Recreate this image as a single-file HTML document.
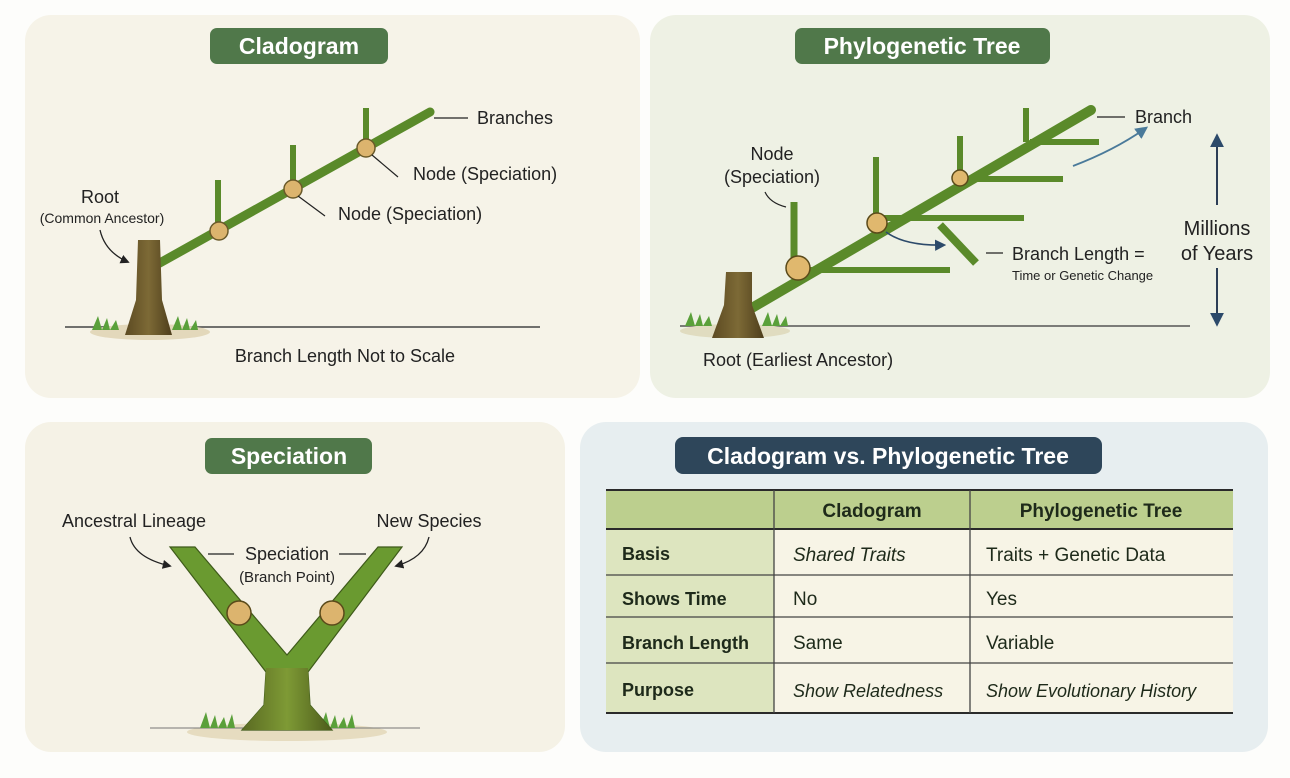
<!DOCTYPE html>
<html><head><meta charset="utf-8"><style>
html,body{margin:0;padding:0;background:#fff;}
svg{display:block;font-family:"Liberation Sans",sans-serif;}
</style></head><body>
<svg width="1290" height="778" viewBox="0 0 1290 778" xmlns="http://www.w3.org/2000/svg">
<defs>
<marker id="ah" viewBox="0 0 10 10" refX="8" refY="5" markerWidth="7" markerHeight="7" orient="auto"><path d="M0,0 L10,5 L0,10 z" fill="#222"/></marker>
<marker id="an" viewBox="0 0 10 10" refX="8" refY="5" markerWidth="7" markerHeight="7" orient="auto"><path d="M0,0 L10,5 L0,10 z" fill="#2c4a6a"/></marker>
<marker id="ab" viewBox="0 0 10 10" refX="8" refY="5" markerWidth="7" markerHeight="7" orient="auto"><path d="M0,0 L10,5 L0,10 z" fill="#4a7a9a"/></marker>
<linearGradient id="trunk" x1="0" x2="1"><stop offset="0" stop-color="#5c4a22"/><stop offset="0.5" stop-color="#7d6a36"/><stop offset="1" stop-color="#4e3e1c"/></linearGradient>
<linearGradient id="ytrunk" x1="0" x2="1"><stop offset="0" stop-color="#5a6a22"/><stop offset="0.5" stop-color="#7e9a35"/><stop offset="1" stop-color="#4d5c1c"/></linearGradient>
</defs>
<rect width="1290" height="778" fill="#fdfdfb"/>

<rect x="25" y="15" width="615" height="383" rx="26" fill="#f6f3e8"/>
<rect x="650" y="15" width="620" height="383" rx="26" fill="#eef1e4"/>
<rect x="25" y="422" width="540" height="330" rx="26" fill="#f5f2e6"/>
<rect x="580" y="422" width="688" height="330" rx="26" fill="#e7eef0"/>

<rect x="210" y="28" width="178" height="36" rx="7" fill="#50784a"/>
<text x="299" y="54" text-anchor="middle" font-size="23" font-weight="bold" fill="#fff">Cladogram</text>
<rect x="795" y="28" width="255" height="36" rx="7" fill="#50784a"/>
<text x="922" y="54" text-anchor="middle" font-size="23" font-weight="bold" fill="#fff">Phylogenetic Tree</text>
<rect x="205" y="438" width="167" height="36" rx="7" fill="#50784a"/>
<text x="289" y="464" text-anchor="middle" font-size="23" font-weight="bold" fill="#fff">Speciation</text>
<rect x="675" y="437" width="427" height="37" rx="8" fill="#2e465a"/>
<text x="888" y="464" text-anchor="middle" font-size="23" font-weight="bold" fill="#fff">Cladogram vs. Phylogenetic Tree</text>

<line x1="65" y1="327" x2="540" y2="327" stroke="#444" stroke-width="1.5"/>
<ellipse cx="150" cy="332" rx="60" ry="8" fill="#e3d8bb"/>
<path d="M92,330 l6,-14 l4,14 l5,-12 l3,12 l6,-10 l3,10 z M172,330 l6,-14 l4,14 l5,-12 l3,12 l6,-10 l2,10z" fill="#5aa03a"/>
<line x1="158" y1="264" x2="430" y2="112" stroke="#5a8a2a" stroke-width="9" stroke-linecap="round"/>
<line x1="218" y1="180" x2="218" y2="231" stroke="#5a8a2a" stroke-width="6"/>
<line x1="293" y1="145" x2="293" y2="189" stroke="#5a8a2a" stroke-width="6"/>
<line x1="366" y1="108" x2="366" y2="148" stroke="#5a8a2a" stroke-width="6"/>
<path d="M138,240 L160,240 L162,300 L172,335 L125,335 L136,300 Z" fill="url(#trunk)"/>
<circle cx="219" cy="231" r="9" fill="#dcb46e" stroke="#6a5a2a" stroke-width="1.5"/>
<circle cx="293" cy="189" r="9" fill="#dcb46e" stroke="#6a5a2a" stroke-width="1.5"/>
<circle cx="366" cy="148" r="9" fill="#dcb46e" stroke="#6a5a2a" stroke-width="1.5"/>
<line x1="434" y1="118" x2="468" y2="118" stroke="#222" stroke-width="1.3"/>
<text x="477" y="124" font-size="18" fill="#222">Branches</text>
<path d="M372,155 L398,177" stroke="#222" stroke-width="1.2" fill="none"/>
<text x="413" y="180" font-size="18" fill="#222">Node (Speciation)</text>
<path d="M298,196 L325,216" stroke="#222" stroke-width="1.2" fill="none"/>
<text x="338" y="220" font-size="18" fill="#222">Node (Speciation)</text>
<text x="100" y="203" text-anchor="middle" font-size="18" fill="#222">Root</text>
<text x="102" y="223" text-anchor="middle" font-size="14" fill="#222">(Common Ancestor)</text>
<path d="M100,230 Q105,252 128,262" stroke="#222" stroke-width="1.3" fill="none" marker-end="url(#ah)"/>
<text x="345" y="362" text-anchor="middle" font-size="18" fill="#222">Branch Length Not to Scale</text>

<line x1="680" y1="326" x2="1190" y2="326" stroke="#555" stroke-width="1.5"/>
<ellipse cx="735" cy="331" rx="55" ry="7" fill="#e0dcc0"/>
<path d="M685,326 l6,-14 l4,14 l5,-12 l3,12 l6,-10 l3,10 z M762,326 l6,-14 l4,14 l5,-12 l3,12 l6,-10 l2,10z" fill="#5aa03a"/>
<line x1="745" y1="312" x2="1091" y2="110" stroke="#5a8a2a" stroke-width="10" stroke-linecap="round"/>
<line x1="798" y1="270" x2="950" y2="270" stroke="#5a8a2a" stroke-width="6"/>
<line x1="877" y1="218" x2="1024" y2="218" stroke="#5a8a2a" stroke-width="6"/>
<line x1="960" y1="179" x2="1063" y2="179" stroke="#5a8a2a" stroke-width="6"/>
<line x1="1030" y1="142" x2="1099" y2="142" stroke="#5a8a2a" stroke-width="6"/>
<line x1="794" y1="202" x2="794" y2="268" stroke="#5a8a2a" stroke-width="7"/>
<line x1="876" y1="157" x2="876" y2="222" stroke="#5a8a2a" stroke-width="6"/>
<line x1="960" y1="136" x2="960" y2="178" stroke="#5a8a2a" stroke-width="6"/>
<line x1="1026" y1="108" x2="1026" y2="142" stroke="#5a8a2a" stroke-width="6"/>
<line x1="940" y1="225" x2="976" y2="263" stroke="#5a8a2a" stroke-width="8"/>
<path d="M726,272 L752,272 L752,305 L764,338 L712,338 L724,305 Z" fill="url(#trunk)"/>
<circle cx="798" cy="268" r="12" fill="#e0b86e" stroke="#5a4a1a" stroke-width="1.5"/>
<circle cx="877" cy="223" r="10" fill="#e0b86e" stroke="#5a4a1a" stroke-width="1.5"/>
<circle cx="960" cy="178" r="8" fill="#e0b86e" stroke="#5a4a1a" stroke-width="1.5"/>
<path d="M886,232 Q905,246 944,245" stroke="#2c4a6a" stroke-width="1.6" fill="none" marker-end="url(#an)"/>
<path d="M1073,166 Q1115,150 1146,128" stroke="#4a7a9a" stroke-width="1.8" fill="none" marker-end="url(#ab)"/>
<line x1="1097" y1="117" x2="1125" y2="117" stroke="#222" stroke-width="1.3"/>
<text x="1135" y="123" font-size="18" fill="#222">Branch</text>
<text x="772" y="160" text-anchor="middle" font-size="18" fill="#222">Node</text>
<text x="772" y="183" text-anchor="middle" font-size="18" fill="#222">(Speciation)</text>
<path d="M765,192 Q770,203 786,207" stroke="#222" stroke-width="1.2" fill="none"/>
<line x1="986" y1="253" x2="1003" y2="253" stroke="#222" stroke-width="1.3"/>
<text x="1012" y="260" font-size="18" fill="#222">Branch Length =</text>
<text x="1012" y="280" font-size="13" fill="#222">Time or Genetic Change</text>
<text x="1217" y="235" text-anchor="middle" font-size="20" fill="#222">Millions</text>
<text x="1217" y="260" text-anchor="middle" font-size="20" fill="#222">of Years</text>
<line x1="1217" y1="205" x2="1217" y2="136" stroke="#2c3e56" stroke-width="2" marker-end="url(#an)"/>
<line x1="1217" y1="268" x2="1217" y2="324" stroke="#2c3e56" stroke-width="2" marker-end="url(#an)"/>
<text x="703" y="366" font-size="18" fill="#222">Root (Earliest Ancestor)</text>

<ellipse cx="287" cy="732" rx="100" ry="9" fill="#e6dcc0"/>
<line x1="150" y1="728" x2="420" y2="728" stroke="#777" stroke-width="1"/>
<path d="M200,728 l6,-16 l4,16 l5,-13 l3,13 l6,-11 l3,11 l5,-14 l3,14z M320,728 l6,-16 l4,16 l5,-13 l3,13 l6,-11 l3,11 l5,-14 l3,14z" fill="#5aa03a"/>
<path d="M170,547 L195,547 L287,655 L378,547 L402,547 L308,672 L310,705 L332,730 L242,730 L264,705 L266,672 Z" fill="#6a9a30" stroke="#3e5a1a" stroke-width="1.2"/>
<path d="M266,668 L308,668 L310,705 L332,730 L242,730 L264,705 Z" fill="url(#ytrunk)"/>
<circle cx="239" cy="613" r="12" fill="#dcb46e" stroke="#5a4a1a" stroke-width="1.5"/>
<circle cx="332" cy="613" r="12" fill="#dcb46e" stroke="#5a4a1a" stroke-width="1.5"/>
<text x="134" y="527" text-anchor="middle" font-size="18" fill="#222">Ancestral Lineage</text>
<text x="429" y="527" text-anchor="middle" font-size="18" fill="#222">New Species</text>
<text x="287" y="560" text-anchor="middle" font-size="18" fill="#222">Speciation</text>
<text x="287" y="582" text-anchor="middle" font-size="15" fill="#222">(Branch Point)</text>
<line x1="208" y1="554" x2="234" y2="554" stroke="#222" stroke-width="1.2"/>
<line x1="339" y1="554" x2="366" y2="554" stroke="#222" stroke-width="1.2"/>
<path d="M130,537 Q135,558 170,566" stroke="#222" stroke-width="1.3" fill="none" marker-end="url(#ah)"/>
<path d="M429,537 Q424,558 396,566" stroke="#222" stroke-width="1.3" fill="none" marker-end="url(#ah)"/>

<rect x="606" y="490" width="627" height="39" fill="#bccf8e"/>
<rect x="606" y="529" width="168" height="184" fill="#dde5bf"/>
<rect x="774" y="529" width="459" height="184" fill="#f7f4e6"/>
<g stroke="#2a2a2a" stroke-width="2">
<line x1="606" y1="490" x2="1233" y2="490"/>
<line x1="606" y1="529" x2="1233" y2="529"/>
<line x1="606" y1="713" x2="1233" y2="713"/>
</g>
<g stroke="#444" stroke-width="1.3">
<line x1="606" y1="575" x2="1233" y2="575"/>
<line x1="606" y1="617" x2="1233" y2="617"/>
<line x1="606" y1="663" x2="1233" y2="663"/>
<line x1="774" y1="490" x2="774" y2="713"/>
<line x1="970" y1="490" x2="970" y2="713"/>
</g>
<g font-size="19" fill="#1e2a1a">
<text x="872" y="517" text-anchor="middle" font-weight="bold">Cladogram</text>
<text x="1101" y="517" text-anchor="middle" font-weight="bold">Phylogenetic Tree</text>
<text x="622" y="560" font-weight="bold" font-size="18">Basis</text>
<text x="622" y="605" font-weight="bold" font-size="18">Shows Time</text>
<text x="622" y="649" font-weight="bold" font-size="18">Branch Length</text>
<text x="622" y="696" font-weight="bold" font-size="18">Purpose</text>
<text x="793" y="561" font-style="italic">Shared Traits</text>
<text x="793" y="605">No</text>
<text x="793" y="649">Same</text>
<text x="793" y="697" font-style="italic" font-size="18">Show Relatedness</text>
<text x="986" y="561">Traits + Genetic Data</text>
<text x="986" y="605">Yes</text>
<text x="986" y="649">Variable</text>
<text x="986" y="697" font-style="italic" font-size="18">Show Evolutionary History</text>
</g>
</svg>
</body></html>
